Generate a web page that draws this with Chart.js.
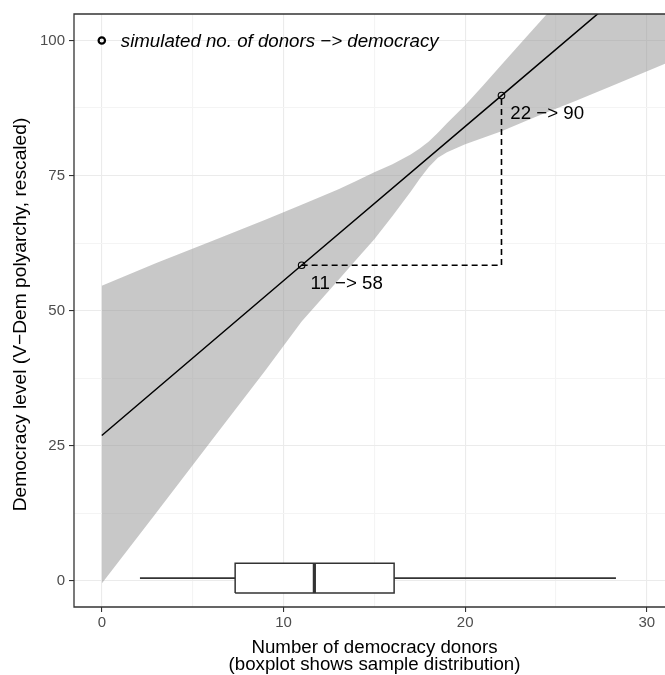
<!DOCTYPE html>
<html>
<head>
<meta charset="utf-8">
<title>Democracy donors</title>
<script src="https://cdn.jsdelivr.net/npm/chart.js@4.4.1/dist/chart.umd.min.js"></script>
<style>
    html, body { margin: 0; padding: 0; background: #fff; overflow: hidden; }
    #donorChart { display: block; }
</style>
</head>
<body>
<canvas id="donorChart" width="665" height="675"></canvas>
<script>
// axis ticks
const xMajorTicks = [0, 10, 20, 30];
const xMinorTicks = [5, 15, 25];
const yMajorTicks = [0, 25, 50, 75, 100];
const yMinorTicks = [12.5, 37.5, 62.5, 87.5];

// confidence band of the fitted line
const bandX     = [0, 3, 6, 9, 11, 13, 14, 15, 16, 17, 17.5, 18, 18.5, 19, 20, 21, 22, 23.4, 24.5, 26, 28, 31];
const bandUpper = [54.6, 58.8, 62.8, 66.8, 69.6, 72.4, 74.0, 75.6, 77.1, 78.9, 80.0, 81.3, 82.9, 84.7, 88.0, 91.7, 95.5, 100.8, 104.9, 110.9, 119.1, 131.7];
const bandLower = [-0.5, 12.6, 25.8, 38.9, 48.0, 55.6, 59.4, 63.2, 67.5, 72.0, 74.4, 76.6, 78.3, 79.3, 80.8, 82.0, 83.2, 85.2, 86.7, 88.7, 91.5, 95.7];

// fitted line
const fitX = [0, 11, 22, 31];
const fitY = [26.9, 58.4, 89.8, 115.5];

// simulated donors -> democracy
const simX = [11, 22];
const simY = [58.4, 89.8];
const simLabels = ['11 \u2212> 58', '22 \u2212> 90'];

const keyX = [0];
const keyY = [100];
const keyLabel = 'simulated no. of donors \u2212> democracy';

// sample distribution: lower whisker, q1, median, q3, upper whisker
const donorBox = [2.1, 7.34, 11.7, 16.09, 28.3];

const FONT = '"Liberation Sans", Arial, Helvetica, sans-serif';
const BOX_Y = 0.5;
const BOX_HALF = 2.77;

function toPoints(xs, ys) {
    return xs.map((x, i) => ({ x: x, y: ys[i] }));
}

function isMajor(list, v) {
    return list.indexOf(v) >= 0;
}

const boxLo = BOX_Y - BOX_HALF;
const boxHi = BOX_Y + BOX_HALF;

const baseLine = {
    type: 'line',
    pointRadius: 0,
    pointHoverRadius: 0,
    fill: false,
    tension: 0
};

const datasets = [
    Object.assign({}, baseLine, {
        label: 'band upper',
        data: toPoints(bandX, bandUpper),
        borderWidth: 0,
        borderColor: 'rgba(0,0,0,0)',
        backgroundColor: 'rgba(150,150,150,0.52)',
        fill: '+1',
        order: 9
    }),
    Object.assign({}, baseLine, {
        label: 'band lower',
        data: toPoints(bandX, bandLower),
        borderWidth: 0,
        borderColor: 'rgba(0,0,0,0)',
        order: 8
    }),
    Object.assign({}, baseLine, {
        label: 'fit',
        data: toPoints(fitX, fitY),
        borderColor: '#000',
        borderWidth: 1.5,
        order: 6
    }),
    Object.assign({}, baseLine, {
        label: 'path',
        data: toPoints([simX[0], simX[1], simX[1]], [simY[0], simY[0], simY[1]]),
        borderColor: '#000',
        borderWidth: 1.6,
        borderDash: [6, 4],
        order: 5
    }),
    {
        type: 'line',
        label: 'simulated',
        data: toPoints(simX, simY),
        showLine: false,
        pointStyle: 'circle',
        pointRadius: 3.3,
        pointBorderWidth: 1.1,
        pointBorderColor: '#000',
        pointBackgroundColor: 'rgba(0,0,0,0)',
        order: 4
    },
    {
        type: 'line',
        label: 'key',
        data: toPoints(keyX, keyY),
        showLine: false,
        pointStyle: 'circle',
        pointRadius: 3.2,
        pointBorderWidth: 2.2,
        pointBorderColor: '#000',
        pointBackgroundColor: 'rgba(0,0,0,0)',
        order: 4
    },
    Object.assign({}, baseLine, {
        label: 'whisker low',
        data: toPoints([donorBox[0], donorBox[1]], [BOX_Y, BOX_Y]),
        borderColor: '#333',
        borderWidth: 1.7,
        order: 3
    }),
    Object.assign({}, baseLine, {
        label: 'whisker high',
        data: toPoints([donorBox[3], donorBox[4]], [BOX_Y, BOX_Y]),
        borderColor: '#333',
        borderWidth: 1.7,
        order: 3
    }),
    Object.assign({}, baseLine, {
        label: 'box',
        data: toPoints([donorBox[1], donorBox[3], donorBox[3], donorBox[1], donorBox[1]],
                       [boxLo, boxLo, boxHi, boxHi, boxLo]),
        borderColor: '#333',
        borderWidth: 1.5,
        backgroundColor: '#fff',
        fill: 'shape',
        order: 2
    }),
    Object.assign({}, baseLine, {
        label: 'median',
        data: toPoints([donorBox[2], donorBox[2]], [boxLo, boxHi]),
        borderColor: '#333',
        borderWidth: 3.2,
        borderCapStyle: 'butt',
        order: 1
    })
];

const frameAndText = {
    id: 'frameAndText',
    afterDatasetsDraw(chart) {
        const ctx = chart.ctx;
        const area = chart.chartArea;
        const xs = chart.scales.x;
        const ys = chart.scales.y;

        ctx.save();
        // panel border (right side lies outside the picture)
        ctx.strokeStyle = '#333';
        ctx.lineWidth = 1.3;
        ctx.beginPath();
        ctx.moveTo(area.right + 2, area.top);
        ctx.lineTo(area.left, area.top);
        ctx.lineTo(area.left, area.bottom);
        ctx.lineTo(area.right + 2, area.bottom);
        ctx.stroke();

        ctx.fillStyle = '#000';
        ctx.textAlign = 'left';
        ctx.textBaseline = 'alphabetic';

        ctx.font = 'italic 18.7px ' + FONT;
        ctx.fillText(keyLabel, xs.getPixelForValue(keyX[0]) + 19, ys.getPixelForValue(keyY[0]) + 6.5);

        ctx.font = '18.7px ' + FONT;
        simLabels.forEach((t, i) => {
            ctx.fillText(t, xs.getPixelForValue(simX[i]) + 8.8, ys.getPixelForValue(simY[i]) + 23.5);
        });

        // axis titles
        ctx.textAlign = 'center';
        const cx = (area.left + area.right) / 2 + 5;
        ctx.fillText('Number of democracy donors', cx, 653);
        ctx.fillText('(boxplot shows sample distribution)', cx, 670);

        ctx.font = '19.2px ' + FONT;
        ctx.translate(25.5, (area.top + area.bottom) / 2 + 4);
        ctx.rotate(-Math.PI / 2);
        ctx.fillText('Democracy level (V\u2212Dem polyarchy, rescaled)', 0, 0);
        ctx.restore();
    }
};

function gridColor(list) {
    return c => (c.tick && isMajor(list, c.tick.value)) ? '#ebebeb' : '#f4f4f4';
}

function tickColor(list) {
    return c => (c.tick && isMajor(list, c.tick.value)) ? '#333' : 'rgba(0,0,0,0)';
}

new Chart(document.getElementById('donorChart'), {
    type: 'line',
    data: { datasets: datasets },
    plugins: [frameAndText],
    options: {
        responsive: false,
        animation: false,
        devicePixelRatio: 1,
        layout: { autoPadding: false, padding: { top: 14, right: 0, left: 0, bottom: 0 } },
        plugins: {
            legend: { display: false },
            tooltip: { enabled: false },
            title: { display: false }
        },
        scales: {
            x: {
                type: 'linear',
                min: -1.53,
                max: 31.0,
                afterBuildTicks: s => {
                    s.ticks = xMajorTicks.concat(xMinorTicks).sort((a, b) => a - b).map(v => ({ value: v }));
                },
                afterFit: s => {
                    s.height = 68;
                    s.paddingLeft = 0;
                    s.paddingRight = 0;
                },
                border: { display: false },
                grid: {
                    color: gridColor(xMajorTicks),
                    lineWidth: 1.1,
                    drawTicks: true,
                    tickLength: 5,
                    tickWidth: 1.1,
                    tickColor: tickColor(xMajorTicks)
                },
                ticks: {
                    autoSkip: false,
                    maxRotation: 0,
                    padding: 2,
                    color: '#4d4d4d',
                    font: { family: FONT, size: 15 },
                    callback: v => isMajor(xMajorTicks, v) ? String(v) : ''
                }
            },
            y: {
                type: 'linear',
                min: -4.85,
                max: 104.9,
                afterBuildTicks: s => {
                    s.ticks = yMajorTicks.concat(yMinorTicks).sort((a, b) => a - b).map(v => ({ value: v }));
                },
                afterFit: s => {
                    s.width = 74;
                    s.paddingTop = 0;
                    s.paddingBottom = 0;
                },
                border: { display: false },
                grid: {
                    color: gridColor(yMajorTicks),
                    lineWidth: 1.1,
                    drawTicks: true,
                    tickLength: 5,
                    tickWidth: 1.1,
                    tickColor: tickColor(yMajorTicks)
                },
                ticks: {
                    autoSkip: false,
                    padding: 4,
                    color: '#4d4d4d',
                    font: { family: FONT, size: 15 },
                    callback: v => isMajor(yMajorTicks, v) ? String(v) : ''
                }
            }
        }
    }
});
</script>
</body>
</html>
